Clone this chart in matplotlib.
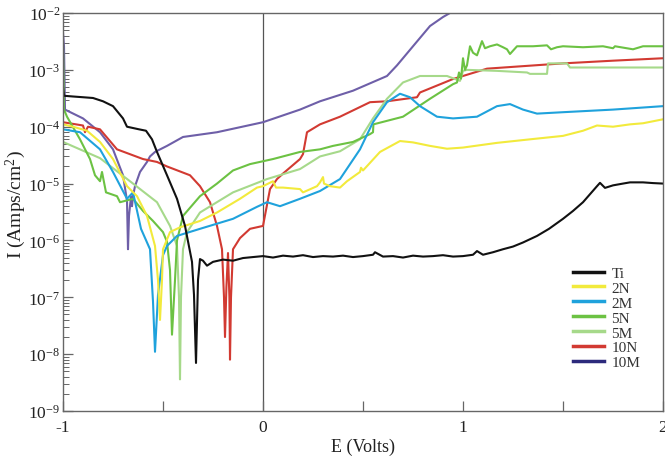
import matplotlib
matplotlib.use("Agg")
import matplotlib.pyplot as plt
from matplotlib.lines import Line2D
from matplotlib.ticker import LogLocator, MultipleLocator, NullFormatter

plt.rcParams['font.family'] = ['Liberation Serif', 'DejaVu Serif']
plt.rcParams['mathtext.default'] = 'regular'
plt.rcParams['mathtext.fontset'] = 'custom'
plt.rcParams['mathtext.rm'] = 'Liberation Serif'

labels = ["Ti", "2N", "2M", "5N", "5M", "10N", "10M"]
colors = ["#111111", "#f2ea3c", "#1fa2dc", "#6cc243", "#a6d98a", "#d23a32", "#6e5fa8"]
legend_colors = ["#111111", "#f2ea3c", "#1fa2dc", "#6cc243", "#a6d98a", "#d23a32", "#2c2a7c"]

ti_E = [-1.0, -0.995, -0.95, -0.9, -0.85, -0.8, -0.75, -0.7, -0.68, -0.62, -0.585, -0.555,
        -0.53, -0.48, -0.43, -0.39, -0.355, -0.345, -0.335, -0.325, -0.315, -0.3, -0.28,
        -0.25, -0.2, -0.15, -0.1, -0.05, 0.0, 0.05, 0.1, 0.15, 0.2, 0.25, 0.3, 0.35, 0.4,
        0.45, 0.5, 0.55, 0.56, 0.6, 0.65, 0.7, 0.75, 0.8, 0.85, 0.9, 0.95, 1.0, 1.05, 1.07,
        1.1, 1.15, 1.2, 1.25, 1.3, 1.37, 1.43, 1.5, 1.55, 1.6, 1.67, 1.685, 1.71, 1.75,
        1.8, 1.835, 1.9, 1.95, 2.0]
ti_I = [5e-4, 3.5e-4, 3.4e-4, 3.3e-4, 3.2e-4, 2.8e-4, 2.3e-4, 1.4e-4, 1.0e-4, 9e-5, 8.5e-5, 6e-5,
        3.6e-5, 1.4e-5, 5.4e-6, 1.8e-6, 4.2e-7, 1.1e-7, 7e-9, 2e-7, 4.7e-7, 4.4e-7, 3.6e-7,
        4.2e-7, 4.6e-7, 4.4e-7, 4.9e-7, 5.1e-7, 5.3e-7, 5.0e-7, 5.4e-7, 5.2e-7, 5.5e-7, 5.1e-7, 5.3e-7, 5.2e-7, 5.4e-7,
        5.1e-7, 5.3e-7, 5.6e-7, 6.2e-7, 5.2e-7, 5.3e-7, 5.0e-7, 5.4e-7, 5.2e-7, 5.3e-7, 5.5e-7, 5.2e-7, 5.3e-7, 5.6e-7, 6.5e-7,
        5.6e-7, 6.2e-7, 7.0e-7, 7.8e-7, 9.2e-7, 1.2e-6, 1.6e-6, 2.4e-6, 3.3e-6, 4.7e-6, 9e-6, 1.03e-5, 8.4e-6, 9.3e-6,
        1.0e-5, 1.05e-5, 1.05e-5, 1.02e-5, 1.0e-5]

n2_E = [-1.0, -0.95, -0.88, -0.815, -0.75, -0.68, -0.63, -0.58, -0.54, -0.525, -0.515, -0.505,
        -0.5, -0.465, -0.415, -0.315, -0.23, -0.115, -0.03, 0.0, 0.05, 0.065, 0.1, 0.185, 0.2,
        0.27, 0.285, 0.3, 0.305, 0.335, 0.385, 0.42, 0.485, 0.49, 0.5, 0.585, 0.685, 0.75,
        0.835, 0.92, 1.0, 1.17, 1.335, 1.5, 1.6, 1.67, 1.75, 1.835, 1.9, 2.0]
n2_I = [1.1e-4, 1.0e-4, 8.5e-5, 5.4e-5, 2.7e-5, 9e-6, 6e-6, 2.7e-6, 8e-7, 2e-7, 4e-8, 2e-7,
        7e-7, 1.4e-6, 1.7e-6, 2.2e-6, 3.1e-6, 5.4e-6, 8.5e-6, 9e-6, 1.1e-5, 8.5e-6, 8.5e-6, 8e-6, 7e-6,
        9e-6, 1.05e-5, 1.3e-5, 1.0e-5, 9e-6, 8.5e-6, 1.1e-5, 1.6e-5, 1.9e-5, 1.7e-5, 3.6e-5, 5.6e-5, 5.3e-5,
        4.6e-5, 4.1e-5, 4.3e-5, 5.2e-5, 6e-5, 6.9e-5, 8.5e-5, 1.05e-4, 1.0e-4, 1.1e-4, 1.15e-4, 1.35e-4]

m2_E = [-1.0, -0.915, -0.815, -0.75, -0.68, -0.65, -0.61, -0.565, -0.55, -0.54, -0.525, -0.5,
        -0.48, -0.43, -0.315, -0.15, -0.03, 0.02, 0.085, 0.185, 0.285, 0.385, 0.485, 0.55,
        0.62, 0.685, 0.735, 0.785, 0.87, 0.95, 1.07, 1.17, 1.235, 1.3, 1.37, 1.5, 1.75, 2.0]
m2_I = [9e-5, 8e-5, 4e-5, 1.6e-5, 5.4e-6, 7e-6, 1.6e-6, 7e-7, 8.4e-8, 1.1e-8, 1.1e-7, 5.5e-7,
        8e-7, 1.2e-6, 1.6e-6, 2.4e-6, 3.9e-6, 4.7e-6, 4e-6, 5.4e-6, 7.4e-6, 1.2e-5, 4e-5, 1.2e-4,
        2.7e-4, 3.8e-4, 3.3e-4, 2.3e-4, 1.5e-4, 1.4e-4, 1.5e-4, 2.3e-4, 2.5e-4, 2.0e-4, 1.7e-4, 1.8e-4, 2.0e-4, 2.3e-4]

n5_E = [-1.0, -0.995, -0.98, -0.915, -0.865, -0.84, -0.815, -0.805, -0.785, -0.73, -0.715,
        -0.65, -0.6, -0.55, -0.5, -0.48, -0.465, -0.455, -0.44, -0.43, -0.4, -0.315, -0.23,
        -0.15, -0.065, 0.05, 0.185, 0.285, 0.35, 0.45, 0.535, 0.55, 0.552, 0.7, 0.835, 0.95,
        0.97, 0.98, 0.99, 1.0, 1.01, 1.02, 1.035, 1.05, 1.07, 1.095, 1.11, 1.135, 1.17, 1.2,
        1.22, 1.235, 1.27, 1.35, 1.42, 1.44, 1.47, 1.5, 1.6, 1.7, 1.75, 1.76, 1.85, 1.9, 2.0]
n5_I = [3e-3, 2e-4, 1.5e-4, 6e-5, 2.7e-5, 1.4e-5, 1.1e-5, 1.6e-5, 7e-6, 6e-6, 4.7e-6,
        5.4e-6, 3.3e-6, 2.2e-6, 1.4e-6, 9.5e-7, 3e-7, 2.2e-8, 2e-7, 1e-6, 2.7e-6, 6e-6, 1e-5,
        1.7e-5, 2.2e-5, 2.7e-5, 3.6e-5, 4e-5, 4.6e-5, 5.4e-5, 7.4e-5, 8e-5, 1.1e-4, 1.5e-4, 3.1e-4, 5.6e-4,
        6e-4, 9e-4, 7e-4, 1.6e-3, 1.0e-3, 1.2e-3, 2.6e-3, 2.0e-3, 1.8e-3, 3.2e-3, 2.4e-3, 2.6e-3, 2.8e-3, 2.5e-3,
        2.3e-3, 1.9e-3, 2.6e-3, 2.6e-3, 2.7e-3, 2.3e-3, 2.5e-3, 2.6e-3, 2.5e-3, 2.6e-3, 2.4e-3, 2.6e-3, 2.3e-3, 2.6e-3, 2.6e-3]

m5_E = [-1.0, -0.815, -0.65, -0.53, -0.465, -0.43, -0.42, -0.415, -0.41, -0.4, -0.38, -0.315,
        -0.15, 0.02, 0.185, 0.285, 0.385, 0.485, 0.55, 0.62, 0.7, 0.785, 0.92, 0.985, 1.0,
        1.02, 1.17, 1.32, 1.335, 1.42, 1.425, 1.52, 1.535, 1.7, 2.0]
m5_I = [5.4e-5, 2.8e-5, 1e-5, 4.7e-6, 1.8e-6, 8e-7, 1e-7, 3.6e-9, 1e-7, 7e-7, 1.4e-6, 3.1e-6,
        7e-6, 1.2e-5, 1.8e-5, 3e-5, 3.7e-5, 6e-5, 1.4e-4, 3.1e-4, 6e-4, 7.8e-4, 7.8e-4, 6.4e-4, 9.6e-4,
        1e-3, 9.6e-4, 9e-4, 8.5e-4, 8.5e-4, 1.3e-3, 1.3e-3, 1.1e-3, 1.1e-3, 1.1e-3]

n10_E = [-1.0, -0.9, -0.89, -0.875, -0.815, -0.73, -0.6, -0.53, -0.48, -0.365, -0.315, -0.265,
         -0.23, -0.205, -0.195, -0.19, -0.183, -0.175, -0.168, -0.165, -0.16, -0.15, -0.115,
         -0.065, 0.0, 0.035, 0.07, 0.1, 0.185, 0.2, 0.22, 0.285, 0.385, 0.535, 0.62, 0.77,
         0.785, 0.95, 1.12, 1.5, 1.75, 2.0]
n10_I = [1.2e-4, 1.05e-4, 8e-5, 1e-4, 9e-5, 4e-5, 2.7e-5, 2.4e-5, 2e-5, 1.4e-5, 9e-6, 4.7e-6,
         1.8e-6, 7e-7, 1e-7, 2e-8, 1.5e-7, 6e-7, 1e-7, 8e-9, 1e-7, 7e-7, 1.1e-6,
         1.6e-6, 1.8e-6, 8e-6, 1.2e-5, 1.5e-5, 2.7e-5, 3.3e-5, 8e-5, 1.1e-4, 1.5e-4, 2.7e-4, 2.8e-4, 3.3e-4,
         4e-4, 6.9e-4, 1.05e-3, 1.3e-3, 1.45e-3, 1.6e-3]

m10_E = [-1.0, -0.995, -0.99, -0.9, -0.815, -0.75, -0.7, -0.68, -0.675, -0.67, -0.66, -0.655,
         -0.65, -0.64, -0.615, -0.58, -0.565, -0.54, -0.48, -0.4, -0.23, 0.0, 0.185, 0.285,
         0.45, 0.62, 0.67, 0.75, 0.835, 0.9, 0.935, 1.2, 1.435]
m10_I = [4.5e-3, 2.6e-3, 2e-4, 1.4e-4, 8e-5, 4e-5, 1.4e-5, 5e-6, 7e-7, 2.7e-6, 6e-6, 4e-6,
         6e-6, 9e-6, 1.6e-5, 2.4e-5, 3e-5, 3.6e-5, 4.6e-5, 6.6e-5, 8e-5, 1.2e-4, 2e-4, 2.8e-4,
         4.3e-4, 7.8e-4, 1.2e-3, 2.6e-3, 5.9e-3, 8.5e-3, 1e-2, 1e-2, 1e-2]

series_E = [ti_E, n2_E, m2_E, n5_E, m5_E, n10_E, m10_E]
series_I = [ti_I, n2_I, m2_I, n5_I, m5_I, n10_I, m10_I]

fig = plt.figure(figsize=(6.65, 4.64), dpi=100)
ax = fig.add_axes([63/665, 52/464, 600/665, 398/464])

ax.axvline(0, color="#555555", lw=0.9, zorder=1)

for i in [6, 5, 4, 3, 2, 1, 0]:
    ax.plot(series_E[i], series_I[i], color=colors[i], lw=1.5, zorder=2)

ax.set_yscale("log")
ax.set_xlim(-1, 2)
ax.set_ylim(1e-9, 1e-2)
ax.xaxis.set_minor_locator(MultipleLocator(0.5))
ax.yaxis.set_major_locator(LogLocator(base=10, numticks=20))
ax.yaxis.set_minor_locator(LogLocator(base=10, subs=range(2, 10), numticks=100))
ax.yaxis.set_minor_formatter(NullFormatter())
ax.set_xticks([-1, 0, 1, 2])
ax.set_xticklabels(["-1", "0", "1", "2"])

for s in ax.spines.values():
    s.set_color("#666666")
    s.set_linewidth(1.0)

ax.tick_params(axis="both", which="both", direction="in", color="#666666",
               top=False, right=False, labelsize=12.5)
ax.tick_params(axis="y", which="major", length=7, width=0.9, pad=2)
ax.tick_params(axis="y", which="minor", length=4, width=0.7)
ax.tick_params(axis="x", which="major", length=7, width=0.9, pad=6)
ax.tick_params(axis="x", which="minor", length=7, width=0.9)
for lab in ax.get_xticklabels() + ax.get_yticklabels():
    lab.set_color("#222222")

ax.set_xlabel("E (Volts)", fontsize=13, color="#222222", labelpad=2)
ax.set_ylabel("I (Amps/cm$^2$)", fontsize=14, color="#222222")
ax.yaxis.set_label_coords(-0.058, 0.52)

handles = [Line2D([0], [0], color=c, lw=2.5) for c in legend_colors]
leg = ax.legend(handles, labels, loc="lower right", bbox_to_anchor=(0.985, 0.07),
                frameon=False, fontsize=11, handlelength=2.0, handletextpad=0.5,
                labelspacing=0.08)
for t in leg.get_texts():
    t.set_color("#333333")

fig.savefig("out.png", dpi=100)
